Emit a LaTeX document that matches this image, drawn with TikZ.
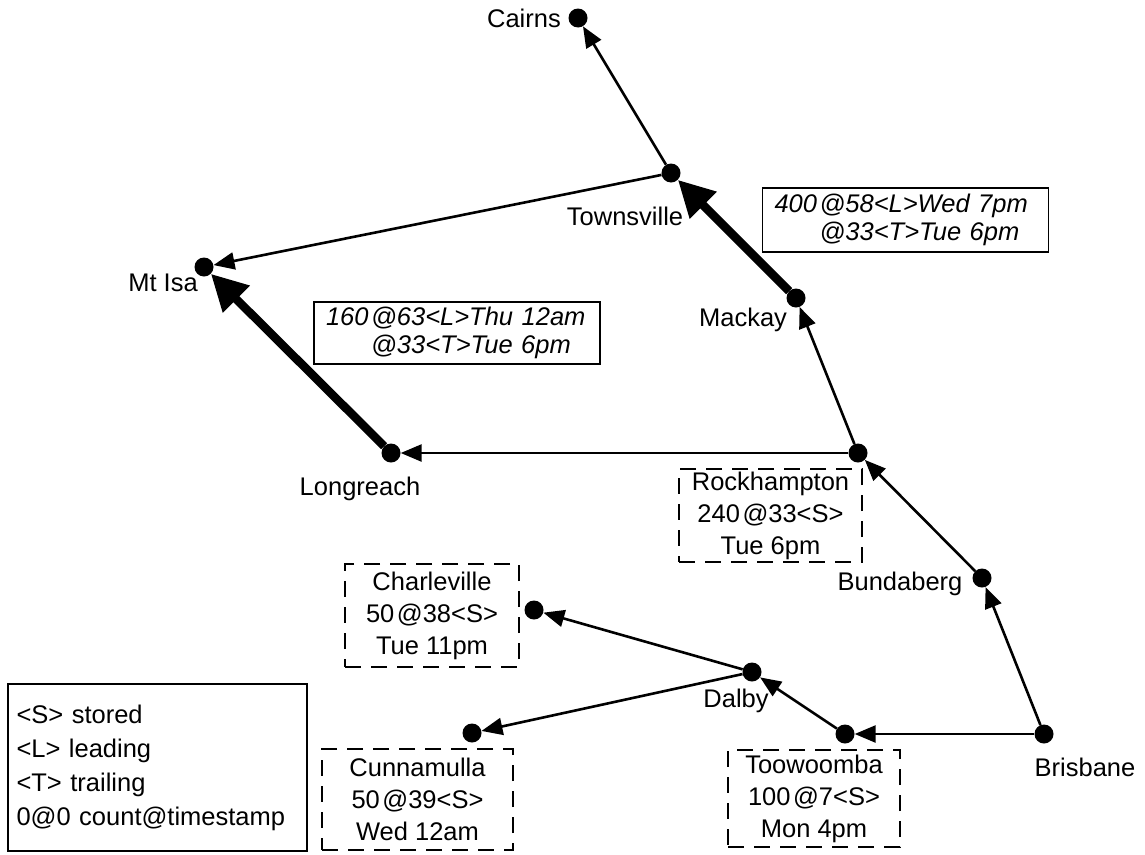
\documentclass[tikz,border=0pt]{standalone}
\usepackage{fontspec}
\setmainfont{Liberation Sans}
\usetikzlibrary{arrows.meta}
\newcommand{\atgap}{\kern2.5pt}
\begin{document}
\begin{tikzpicture}[x=1pt,y=-1pt,
  city/.style={circle,fill=black,minimum size=19pt,inner sep=0pt},
  lbl/.style={inner sep=0pt,font=\fontsize{25.5pt}{32pt}\selectfont},
  road/.style={line width=2.6pt,-{Triangle[length=21pt,width=17pt]}},
  heavy/.style={line width=8.5pt,-{Triangle[length=36pt,width=36pt]}},
  stockbox/.style={draw,line width=2.8pt,dash pattern=on 16pt off 10pt,
    align=center,inner sep=0pt,font=\fontsize{25.5pt}{32pt}\selectfont},
  flowbox/.style={draw,line width=1.5pt,align=left,inner xsep=12pt,inner ysep=0pt,
    text width=262pt,minimum height=62pt,font=\fontsize{25.5pt}{28pt}\selectfont\itshape},
  keybox/.style={draw,line width=1.5pt,align=left,inner xsep=8.5pt,inner ysep=0pt,
    text width=282pt,minimum height=167pt,font=\fontsize{25.5pt}{34pt}\selectfont}]
\useasboundingbox (0,0) rectangle (1145,854);

% towns
\node[city] (cairns) at (578,18) {};
\node[city] (townsville) at (671,173) {};
\node[city] (mtisa) at (204,267) {};
\node[city] (mackay) at (796,298) {};
\node[city] (longreach) at (391,453) {};
\node[city] (rockhampton) at (858,453) {};
\node[city] (bundaberg) at (982,578) {};
\node[city] (charleville) at (534,610) {};
\node[city] (dalby) at (752,672) {};
\node[city] (cunnamulla) at (472,733) {};
\node[city] (toowoomba) at (845,734) {};
\node[city] (brisbane) at (1044,734) {};

% town names
\node[lbl,anchor=east] (cairns-l) at (561,18) {Cairns};
\node[lbl] (townsville-l) at (625,216) {Townsville};
\node[lbl] (mtisa-l) at (163,283) {Mt Isa};
\node[lbl] (mackay-l) at (743,320) {Mackay};
\node[lbl] (longreach-l) at (360,489) {Longreach};
\node[lbl] (bundaberg-l) at (900,584) {Bundaberg};
\node[lbl] (dalby-l) at (736,701) {Dalby};
\node[lbl] (brisbane-l) at (1085,767) {Brisbane};

% stock boxes
\node[stockbox,minimum width=183pt,minimum height=93pt] (rock-box) at (770.5,515.5)
  {Rockhampton\\240\atgap@33<S>\\Tue 6pm};
\node[stockbox,minimum width=174pt,minimum height=103pt] (charl-box) at (432,615.5)
  {Charleville\\50\atgap@38<S>\\Tue 11pm};
\node[stockbox,minimum width=191pt,minimum height=101pt] (cunna-box) at (417.5,799.5)
  {Cunnamulla\\50\atgap@39<S>\\Wed 12am};
\node[stockbox,minimum width=172pt,minimum height=97pt] (toow-box) at (814,798.5)
  {Toowoomba\\100\atgap@7<S>\\Mon 4pm};

% flow boxes
\node[flowbox] (flow-west) at (457,333)
  {160\atgap@63<L>Thu 12am\\\phantom{160\atgap}@33<T>Tue 6pm};
\node[flowbox,minimum height=64pt] (flow-north) at (905.5,220)
  {400\atgap@58<L>Wed 7pm\\\phantom{400\atgap}@33<T>Tue 6pm};

% key
\node[keybox] (key) at (157.5,767.5)
  {<S> stored\\<L> leading\\<T> trailing\\0@0 count@timestamp};

% routes
\draw[road] (townsville) -- (cairns);
\draw[road] (townsville) -- (mtisa);
\draw[heavy] (mackay) -- (townsville);
\draw[heavy] (longreach) -- (mtisa);
\draw[road] (rockhampton) -- (mackay);
\draw[road] (rockhampton) -- (longreach);
\draw[road] (bundaberg) -- (rockhampton);
\draw[road] (brisbane) -- (bundaberg);
\draw[road] (brisbane) -- (toowoomba);
\draw[road] (toowoomba) -- (dalby);
\draw[road] (dalby) -- (charleville);
\draw[road] (dalby) -- (cunnamulla);
\end{tikzpicture}
\end{document}
